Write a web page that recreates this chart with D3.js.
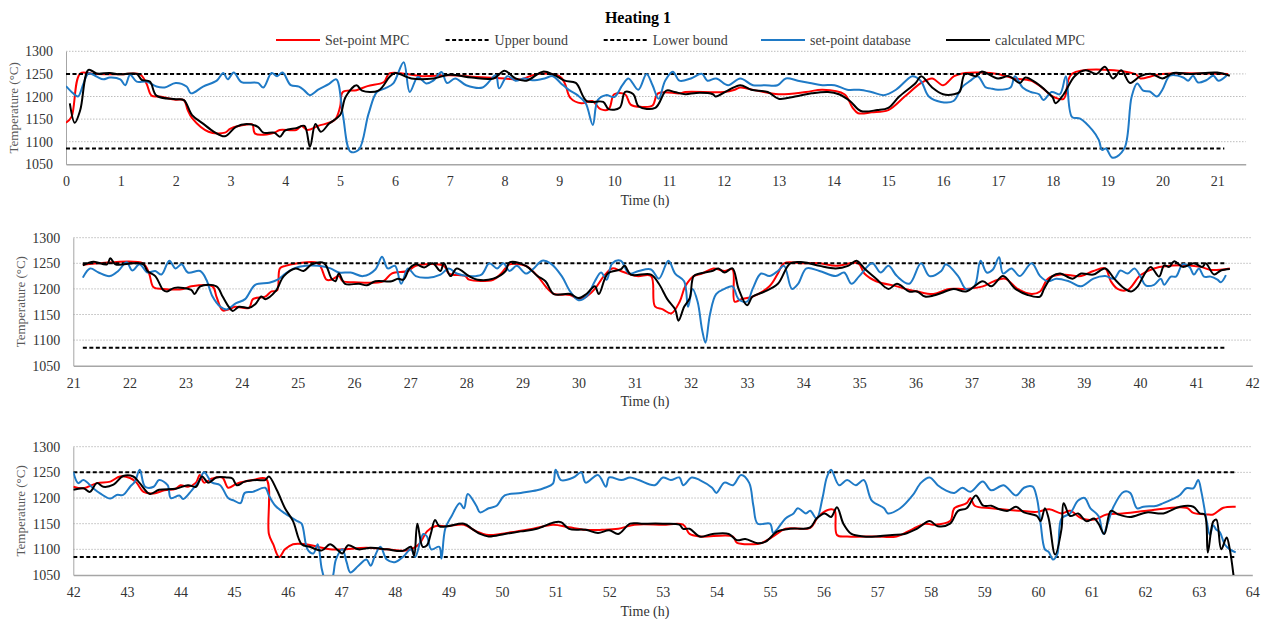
<!DOCTYPE html>
<html>
<head>
<meta charset="utf-8">
<script src="https://cdnjs.cloudflare.com/ajax/libs/d3/7.8.5/d3.min.js"></script>
<style>
  body { margin: 0; background: #fff; }
  svg { display: block; font-family: "Liberation Serif", "Times New Roman", serif; }
</style>
</head>
<body>
<div class="chart"></div>
<script>
// Values, points are [time (h), temperature (°C)]
const upperBound = 1250
const lowerBound = 1085
const tempTicks = [1050, 1100, 1150, 1200, 1250, 1300]
const seriesNames = ['Set-point MPC', 'Upper bound', 'Lower bound', 'set-point database', 'calculated MPC']

const hourTicks1 = [0, 1, 2, 3, 4, 5, 6, 7, 8, 9, 10, 11, 12, 13, 14, 15, 16, 17, 18, 19, 20, 21]
const hourTicks2 = [21, 22, 23, 24, 25, 26, 27, 28, 29, 30, 31, 32, 33, 34, 35, 36, 37, 38, 39, 40, 41, 42]
const hourTicks3 = [42, 43, 44, 45, 46, 47, 48, 49, 50, 51, 52, 53, 54, 55, 56, 57, 58, 59, 60, 61, 62, 63, 64]

const hourDomain1 = [0, 21.52]
const hourDomain2 = [21, 42]
const hourDomain3 = [42, 64]

const boundSpan1 = [0, 21.13]
const boundSpan2 = [21.17, 41.52]
const boundSpan3 = [42, 63.71]

// ---- panel 1 (0 - 21 h)
const setpointMpc1 = [[0,1142],[0.1,1155],[0.26,1251],[0.5,1250],[1.0,1249],[1.35,1249],[1.47,1228],[1.56,1202],[1.71,1200],[2.0,1193],[2.15,1192],[2.22,1170],[2.3,1152],[2.6,1122],[2.9,1120],[3.0,1129],[3.3,1138],[3.4,1138],[3.45,1118],[3.8,1120],[3.9,1126],[4.2,1126],[4.3,1135],[4.4,1126],[4.6,1135],[4.9,1148],[5.0,1177],[5.05,1210],[5.3,1214],[5.5,1223],[5.8,1232],[5.9,1251],[6.5,1245],[7.0,1247],[7.5,1243],[8.0,1240],[8.3,1238],[8.6,1250],[9.0,1245],[9.1,1229],[9.2,1197],[9.4,1185],[9.6,1190],[9.75,1172],[9.9,1172],[10.0,1205],[10.2,1205],[10.3,1182],[10.5,1177],[10.7,1180],[10.8,1207],[11.2,1207],[11.3,1210],[12.0,1210],[12.2,1215],[12.3,1220],[12.6,1213],[13.0,1205],[13.5,1210],[13.8,1215],[14.2,1205],[14.35,1175],[14.45,1163],[14.7,1165],[15.0,1170],[15.3,1200],[15.6,1230],[15.8,1240],[16.0,1225],[16.2,1245],[16.4,1252],[17.0,1250],[17.3,1240],[17.6,1235],[17.8,1220],[18.0,1200],[18.2,1195],[18.35,1250],[19.5,1250],[19.6,1240],[19.8,1245],[20.0,1250],[21.2,1250]]
const setpointDb1 = [[0,1223],[0.13,1207],[0.22,1200],[0.32,1229],[0.41,1251],[0.56,1244],[0.68,1238],[0.8,1242],[0.99,1238],[1.08,1225],[1.17,1248],[1.29,1233],[1.47,1233],[1.65,1222],[1.8,1220],[2.0,1230],[2.2,1222],[2.28,1207],[2.5,1222],[2.75,1235],[2.87,1252],[2.95,1238],[3.06,1253],[3.2,1232],[3.5,1230],[3.6,1220],[3.75,1252],[3.85,1245],[3.95,1253],[4.1,1225],[4.25,1222],[4.35,1213],[4.45,1203],[4.6,1215],[4.8,1228],[4.93,1238],[5.05,1160],[5.19,1078],[5.34,1082],[5.52,1162],[5.67,1210],[5.82,1218],[5.97,1229],[6.16,1276],[6.27,1210],[6.42,1243],[6.57,1229],[6.7,1235],[6.85,1254],[6.95,1230],[7.1,1240],[7.3,1225],[7.6,1220],[7.84,1247],[7.9,1218],[8.05,1245],[8.2,1235],[8.36,1240],[8.51,1236],[8.73,1240],[8.88,1245],[9.03,1229],[9.18,1214],[9.33,1203],[9.48,1185],[9.61,1137],[9.7,1192],[9.85,1203],[10.0,1199],[10.15,1225],[10.26,1240],[10.44,1215],[10.59,1250],[10.7,1225],[10.81,1195],[10.93,1235],[11.07,1255],[11.19,1235],[11.4,1240],[11.6,1250],[11.7,1235],[11.86,1240],[12.08,1225],[12.3,1240],[12.53,1225],[12.75,1225],[12.98,1225],[13.13,1240],[13.35,1235],[13.57,1230],[13.8,1225],[14.02,1225],[14.25,1215],[14.47,1215],[14.69,1210],[14.92,1203],[15.14,1215],[15.37,1240],[15.44,1245],[15.59,1235],[15.74,1200],[15.96,1188],[16.19,1190],[16.34,1220],[16.5,1235],[16.63,1245],[16.78,1220],[16.86,1218],[17.0,1215],[17.23,1220],[17.31,1245],[17.45,1220],[17.6,1210],[17.75,1205],[17.83,1192],[17.98,1210],[18.13,1205],[18.24,1245],[18.35,1155],[18.5,1151],[18.72,1126],[18.84,1104],[18.9,1082],[18.97,1085],[19.08,1065],[19.17,1067],[19.32,1089],[19.44,1200],[19.54,1229],[19.65,1213],[19.77,1211],[19.9,1200],[20.0,1215],[20.14,1246],[20.38,1242],[20.47,1235],[20.56,1246],[20.65,1231],[20.8,1236],[20.93,1246],[21.02,1235],[21.17,1246]]
const calculatedMpc1 = [[0.07,1185],[0.16,1142],[0.26,1170],[0.41,1259],[0.56,1251],[0.8,1252],[0.99,1249],[1.29,1250],[1.38,1237],[1.53,1233],[1.65,1202],[2.0,1194],[2.15,1192],[2.3,1159],[2.5,1140],[2.7,1122],[2.9,1112],[3.1,1133],[3.3,1139],[3.5,1133],[3.6,1120],[3.8,1120],[3.9,1111],[4.0,1125],[4.2,1130],[4.35,1135],[4.45,1089],[4.55,1139],[4.65,1122],[4.8,1140],[5.0,1159],[5.1,1199],[5.3,1225],[5.4,1213],[5.7,1213],[5.9,1243],[6.0,1252],[6.3,1240],[6.7,1240],[7.0,1248],[7.4,1242],[7.8,1240],[8.0,1257],[8.2,1240],[8.4,1235],[8.7,1255],[8.9,1248],[9.1,1235],[9.3,1230],[9.5,1190],[9.8,1188],[9.9,1172],[10.1,1175],[10.2,1210],[10.35,1205],[10.45,1178],[10.75,1175],[10.95,1213],[11.1,1210],[11.3,1205],[11.5,1208],[11.8,1205],[11.85,1200],[12.1,1215],[12.3,1225],[12.5,1215],[12.8,1210],[13.0,1195],[13.3,1200],[13.6,1207],[13.9,1210],[14.1,1205],[14.3,1190],[14.5,1168],[14.8,1170],[15.0,1175],[15.2,1200],[15.5,1230],[15.6,1245],[15.8,1220],[16.0,1205],[16.2,1205],[16.3,1210],[16.4,1250],[16.6,1245],[16.7,1255],[17.0,1240],[17.2,1245],[17.4,1230],[17.5,1242],[17.7,1230],[17.9,1210],[18.0,1198],[18.05,1185],[18.2,1205],[18.4,1245],[18.6,1258],[18.8,1250],[18.95,1266],[19.1,1240],[19.25,1258],[19.41,1230],[19.6,1245],[19.8,1250],[20.0,1240],[20.2,1252],[20.5,1250],[21.0,1253],[21.23,1246]]

// ---- panel 2 (21 - 42 h)
const setpointMpc2 = [[21.17,1247],[21.45,1250],[22.24,1250],[22.35,1230],[22.43,1203],[22.6,1200],[22.96,1200],[23.1,1205],[23.48,1205],[23.55,1185],[23.66,1158],[23.77,1160],[23.88,1165],[24.13,1163],[24.2,1180],[24.42,1185],[24.53,1195],[24.63,1197],[24.68,1240],[24.78,1245],[25.0,1250],[25.36,1250],[25.51,1218],[25.6,1218],[25.73,1225],[25.8,1215],[26.0,1213],[26.52,1215],[26.67,1230],[26.96,1235],[27.1,1245],[27.6,1245],[27.69,1230],[27.98,1225],[28.05,1218],[28.48,1218],[28.62,1230],[28.77,1248],[29.06,1245],[29.13,1240],[29.27,1225],[29.45,1200],[29.56,1190],[29.85,1188],[30.0,1180],[30.14,1185],[30.29,1200],[30.45,1225],[30.6,1240],[30.75,1235],[31.04,1225],[31.29,1225],[31.36,1166],[31.5,1160],[31.65,1152],[31.8,1175],[31.9,1205],[32.05,1225],[32.2,1230],[32.4,1240],[32.6,1235],[32.74,1238],[32.78,1175],[32.9,1180],[33.1,1185],[33.4,1205],[33.55,1230],[33.66,1250],[34.0,1250],[34.3,1250],[34.58,1245],[34.98,1250],[35.09,1230],[35.3,1215],[35.67,1205],[35.82,1200],[36.03,1195],[36.32,1190],[36.6,1200],[36.9,1200],[37.2,1205],[37.4,1215],[37.6,1220],[37.82,1200],[38.07,1190],[38.22,1195],[38.36,1220],[38.58,1228],[38.95,1225],[39.17,1235],[39.38,1240],[39.48,1215],[39.6,1200],[39.78,1198],[40.01,1227],[40.25,1240],[40.73,1246],[41.08,1243],[41.26,1237],[41.6,1240]]
const setpointDb2 = [[21.17,1222],[21.3,1240],[21.45,1232],[21.65,1225],[21.8,1235],[21.95,1252],[22.05,1236],[22.18,1248],[22.32,1232],[22.46,1235],[22.57,1228],[22.71,1255],[22.82,1240],[22.93,1248],[23.04,1232],[23.26,1235],[23.37,1218],[23.48,1185],[23.62,1165],[23.73,1160],[23.9,1172],[24.06,1180],[24.24,1208],[24.49,1212],[24.64,1218],[24.78,1230],[24.93,1240],[25.14,1245],[25.36,1245],[25.58,1240],[25.73,1232],[25.94,1232],[26.16,1225],[26.38,1238],[26.5,1263],[26.6,1240],[26.73,1245],[26.84,1210],[26.96,1240],[27.1,1225],[27.32,1222],[27.54,1228],[27.69,1240],[27.83,1230],[28.05,1225],[28.27,1228],[28.41,1250],[28.55,1240],[28.66,1250],[28.77,1235],[28.9,1245],[29.06,1230],[29.2,1240],[29.35,1255],[29.5,1250],[29.7,1225],[29.85,1195],[30.0,1178],[30.14,1185],[30.29,1215],[30.4,1232],[30.5,1218],[30.6,1250],[30.75,1255],[30.9,1230],[31.07,1235],[31.29,1238],[31.43,1220],[31.6,1255],[31.72,1230],[31.88,1215],[31.95,1165],[32.03,1200],[32.12,1175],[32.2,1120],[32.26,1095],[32.34,1150],[32.45,1190],[32.6,1200],[32.74,1205],[32.85,1180],[33.0,1175],[33.1,1200],[33.25,1230],[33.4,1225],[33.55,1235],[33.66,1245],[33.8,1200],[33.91,1210],[34.06,1240],[34.29,1235],[34.58,1225],[34.73,1232],[34.86,1210],[35.0,1225],[35.23,1250],[35.38,1232],[35.52,1245],[35.67,1225],[35.89,1210],[36.1,1250],[36.25,1225],[36.46,1235],[36.54,1248],[36.76,1225],[36.9,1200],[37.05,1205],[37.16,1255],[37.27,1232],[37.38,1238],[37.49,1262],[37.56,1230],[37.71,1240],[37.86,1225],[38.07,1250],[38.22,1225],[38.36,1215],[38.51,1220],[38.73,1215],[38.95,1205],[39.17,1220],[39.38,1225],[39.54,1220],[39.65,1236],[39.78,1230],[39.9,1240],[40.01,1224],[40.1,1207],[40.25,1208],[40.37,1220],[40.43,1208],[40.55,1224],[40.64,1224],[40.76,1248],[40.88,1243],[40.96,1228],[41.05,1240],[41.14,1224],[41.26,1224],[41.38,1218],[41.44,1213],[41.53,1227]]
const calculatedMpc2 = [[21.17,1246],[21.36,1253],[21.6,1248],[21.66,1260],[21.75,1248],[22.07,1250],[22.25,1248],[22.32,1235],[22.46,1225],[22.6,1198],[22.67,1195],[22.8,1202],[23.1,1198],[23.16,1190],[23.26,1205],[23.55,1205],[23.66,1185],[23.77,1165],[23.84,1157],[23.95,1165],[24.13,1163],[24.24,1170],[24.35,1185],[24.42,1180],[24.6,1195],[24.75,1225],[24.96,1240],[25.1,1235],[25.25,1248],[25.47,1250],[25.6,1220],[25.67,1215],[25.73,1230],[25.84,1210],[26.09,1210],[26.23,1207],[26.38,1215],[26.67,1215],[26.78,1220],[26.88,1218],[26.99,1240],[27.1,1248],[27.25,1242],[27.4,1250],[27.54,1235],[27.6,1250],[27.72,1225],[27.83,1240],[28.05,1225],[28.2,1218],[28.48,1220],[28.7,1235],[28.77,1252],[29.06,1245],[29.27,1225],[29.41,1215],[29.56,1190],[29.85,1190],[30.0,1182],[30.14,1190],[30.29,1205],[30.36,1190],[30.52,1230],[30.75,1238],[30.82,1245],[30.93,1228],[31.29,1228],[31.43,1210],[31.58,1180],[31.72,1160],[31.78,1138],[31.88,1165],[31.98,1182],[32.05,1225],[32.16,1230],[32.38,1235],[32.49,1240],[32.6,1232],[32.74,1240],[32.85,1200],[33.0,1168],[33.1,1185],[33.32,1195],[33.55,1210],[33.77,1250],[34.0,1252],[34.29,1245],[34.58,1240],[34.8,1245],[34.95,1255],[35.09,1240],[35.3,1220],[35.52,1200],[35.67,1210],[35.89,1195],[36.03,1195],[36.17,1185],[36.32,1187],[36.46,1192],[36.68,1200],[36.9,1195],[37.2,1215],[37.35,1205],[37.56,1225],[37.78,1200],[38.0,1188],[38.22,1185],[38.29,1200],[38.44,1225],[38.58,1230],[38.8,1220],[38.95,1230],[39.17,1228],[39.38,1240],[39.54,1220],[39.72,1201],[39.84,1195],[39.96,1205],[40.07,1227],[40.19,1243],[40.34,1224],[40.43,1246],[40.52,1243],[40.61,1254],[40.76,1243],[40.96,1250],[41.11,1243],[41.17,1250],[41.32,1228],[41.44,1236],[41.6,1239]]

// ---- panel 3 (42 - 64 h)
const setpointMpc3 = [[42.0,1222],[42.19,1219],[42.44,1229],[42.69,1232],[42.87,1242],[43.06,1239],[43.18,1230],[43.31,1212],[43.5,1209],[43.7,1215],[43.91,1218],[44.0,1225],[44.14,1222],[44.29,1230],[44.36,1245],[44.44,1230],[44.59,1238],[44.78,1240],[44.89,1220],[45.05,1228],[45.35,1235],[45.6,1237],[45.65,1130],[45.73,1110],[45.84,1085],[45.95,1100],[46.1,1110],[46.33,1110],[46.56,1105],[46.79,1100],[47.02,1100],[47.47,1103],[47.85,1100],[48.23,1098],[48.45,1110],[48.6,1135],[48.75,1145],[48.98,1145],[49.29,1148],[49.52,1135],[49.75,1128],[49.97,1130],[50.27,1135],[50.58,1140],[50.95,1148],[51.25,1143],[51.56,1138],[51.86,1138],[52.17,1140],[52.47,1148],[53.0,1148],[53.38,1148],[53.5,1130],[53.69,1125],[54.31,1125],[54.38,1113],[54.69,1110],[54.83,1112],[55.06,1125],[55.29,1140],[55.75,1142],[55.91,1165],[56.14,1178],[56.21,1175],[56.25,1128],[56.44,1125],[56.98,1125],[57.36,1125],[57.67,1140],[57.9,1150],[58.05,1148],[58.36,1155],[58.44,1180],[58.67,1190],[58.74,1200],[58.82,1185],[59.13,1180],[59.67,1175],[59.98,1173],[60.21,1178],[60.44,1170],[60.6,1175],[60.82,1160],[61.05,1158],[61.28,1168],[61.58,1170],[62.03,1175],[62.77,1181],[62.9,1171],[63.15,1168],[63.27,1168],[63.46,1181],[63.69,1183]]
const setpointDb3 = [[42.0,1251],[42.09,1229],[42.19,1235],[42.37,1219],[42.5,1209],[42.69,1199],[42.81,1206],[42.93,1206],[43.06,1222],[43.15,1232],[43.24,1255],[43.34,1222],[43.5,1222],[43.6,1235],[43.76,1225],[43.82,1200],[43.98,1205],[44.05,1198],[44.21,1215],[44.36,1235],[44.44,1250],[44.59,1230],[44.74,1225],[44.89,1200],[45.0,1195],[45.12,1190],[45.2,1210],[45.35,1212],[45.58,1220],[45.65,1205],[45.77,1185],[45.95,1170],[46.18,1155],[46.26,1150],[46.37,1100],[46.48,1092],[46.56,1110],[46.64,1060],[46.71,1040],[46.82,1042],[46.9,1080],[47.02,1100],[47.1,1075],[47.17,1055],[47.32,1068],[47.47,1080],[47.55,1068],[47.62,1085],[47.73,1105],[47.85,1080],[48.0,1075],[48.15,1085],[48.3,1100],[48.38,1085],[48.53,1130],[48.6,1125],[48.68,1100],[48.83,1105],[48.87,1082],[48.94,1140],[49.06,1165],[49.21,1190],[49.29,1180],[49.36,1208],[49.52,1185],[49.59,1172],[49.75,1180],[49.9,1185],[50.05,1205],[50.35,1210],[50.65,1215],[50.8,1220],[50.95,1228],[51.0,1255],[51.1,1235],[51.33,1240],[51.48,1250],[51.56,1230],[51.79,1245],[51.94,1222],[52.0,1240],[52.23,1235],[52.39,1240],[52.55,1235],[52.85,1225],[53.0,1240],[53.15,1235],[53.31,1240],[53.38,1225],[53.54,1240],[53.69,1235],[53.92,1220],[54.0,1210],[54.15,1230],[54.31,1225],[54.46,1245],[54.61,1230],[54.69,1185],[54.77,1150],[55.0,1150],[55.06,1132],[55.14,1140],[55.29,1160],[55.44,1170],[55.52,1180],[55.67,1170],[55.75,1175],[55.87,1160],[55.98,1200],[56.06,1240],[56.14,1255],[56.29,1225],[56.44,1235],[56.6,1225],[56.75,1235],[56.9,1195],[57.13,1180],[57.2,1170],[57.43,1180],[57.66,1205],[57.82,1230],[57.98,1240],[58.13,1225],[58.28,1215],[58.44,1210],[58.59,1220],[58.74,1212],[58.97,1232],[59.13,1215],[59.36,1225],[59.59,1205],[59.74,1220],[59.9,1222],[59.98,1200],[60.05,1150],[60.13,1100],[60.2,1095],[60.28,1080],[60.36,1090],[60.44,1160],[60.6,1170],[60.75,1195],[60.87,1200],[60.98,1180],[61.13,1165],[61.22,1130],[61.3,1150],[61.41,1183],[61.6,1212],[61.72,1210],[61.85,1180],[61.97,1183],[62.22,1185],[62.34,1190],[62.53,1199],[62.65,1206],[62.77,1219],[62.9,1219],[62.99,1235],[63.05,1212],[63.15,1154],[63.21,1128],[63.27,1147],[63.33,1138],[63.39,1134],[63.49,1109],[63.58,1100],[63.69,1094]]
const calculatedMpc3 = [[42.0,1216],[42.19,1219],[42.31,1212],[42.44,1229],[42.56,1222],[42.75,1226],[42.93,1243],[43.12,1242],[43.24,1229],[43.43,1208],[43.6,1216],[43.91,1218],[44.14,1225],[44.29,1222],[44.4,1242],[44.52,1230],[44.67,1240],[44.86,1240],[44.97,1238],[45.05,1225],[45.2,1232],[45.42,1235],[45.58,1235],[45.65,1242],[45.8,1215],[45.95,1180],[46.1,1155],[46.26,1110],[46.41,1105],[46.64,1098],[46.79,1110],[46.94,1098],[47.02,1092],[47.13,1108],[47.32,1100],[47.55,1103],[47.85,1100],[48.15,1097],[48.3,1105],[48.36,1088],[48.42,1150],[48.52,1105],[48.6,1108],[48.67,1130],[48.75,1157],[48.83,1145],[48.98,1145],[49.29,1150],[49.44,1140],[49.59,1130],[49.75,1125],[50.05,1130],[50.35,1135],[50.65,1140],[50.95,1152],[51.1,1153],[51.25,1140],[51.56,1138],[51.79,1132],[52.0,1137],[52.17,1130],[52.39,1150],[52.6,1150],[53.0,1150],[53.31,1148],[53.38,1140],[53.5,1140],[53.69,1125],[53.93,1130],[54.23,1130],[54.38,1118],[54.54,1120],[54.77,1112],[54.92,1115],[55.14,1135],[55.37,1140],[55.75,1143],[55.87,1160],[56.02,1170],[56.14,1163],[56.25,1182],[56.37,1150],[56.52,1130],[56.75,1125],[56.98,1125],[57.28,1128],[57.51,1130],[57.74,1140],[57.98,1155],[58.13,1145],[58.36,1150],[58.51,1175],[58.67,1180],[58.84,1205],[58.98,1185],[59.13,1185],[59.28,1178],[59.44,1175],[59.59,1183],[59.74,1172],[59.98,1165],[60.05,1155],[60.13,1180],[60.2,1160],[60.32,1090],[60.44,1140],[60.48,1190],[60.6,1165],[60.75,1170],[60.9,1155],[61.05,1160],[61.13,1150],[61.24,1130],[61.36,1175],[61.5,1168],[61.72,1163],[62.03,1172],[62.34,1170],[62.65,1183],[62.9,1183],[63.02,1170],[63.11,1168],[63.17,1094],[63.27,1154],[63.33,1158],[63.42,1100],[63.52,1123],[63.58,1100],[63.66,1040]]

// layout (pixels)
const width = 1274
const height = 619
const panels = [
    {left: 66, right: 1245.7, top: 51.3, bottom: 164.3, labelX: 13.3, domain: hourDomain1, ticks: hourTicks1, span: boundSpan1, mpc: setpointMpc1, db: setpointDb1, calc: calculatedMpc1},
    {left: 73.3, right: 1252.3, top: 237.7, bottom: 365.7, labelX: 20.7, domain: hourDomain2, ticks: hourTicks2, span: boundSpan2, mpc: setpointMpc2, db: setpointDb2, calc: calculatedMpc2},
    {left: 73.3, right: 1252.3, top: 446.7, bottom: 575, labelX: 20.7, domain: hourDomain3, ticks: hourTicks3, span: boundSpan3, mpc: setpointMpc3, db: setpointDb3, calc: calculatedMpc3}
]

const red = '#ff0000'
const blue = '#1f7ac6'
const black = '#000000'

let svg = d3.select('.chart')
    .append('svg')
    .attr('width', width)
    .attr('height', height)

svg.append('text')
    .attr('x', 638)
    .attr('y', 17)
    .attr('text-anchor', 'middle')
    .attr('dominant-baseline', 'central')
    .attr('font-size', 16)
    .attr('font-weight', 'bold')
    .attr('fill', '#000')
    .text('Heating 1')

// Legend
let legendItems = [
    {name: seriesNames[0], color: red, dash: null, x: 276},
    {name: seriesNames[1], color: black, dash: '4,2.5', x: 445.6},
    {name: seriesNames[2], color: black, dash: '4,2.5', x: 603.7},
    {name: seriesNames[3], color: blue, dash: null, x: 761},
    {name: seriesNames[4], color: black, dash: null, x: 946}
]
let legend = svg.append('g')
    .selectAll('g')
    .data(legendItems)
    .enter()
    .append('g')
    .attr('transform', d => 'translate(' + d.x + ',40)')

legend.append('line')
    .attr('x1', 0)
    .attr('x2', 44)
    .attr('stroke', d => d.color)
    .attr('stroke-width', 2)
    .attr('stroke-dasharray', d => d.dash)

legend.append('text')
    .attr('x', 49)
    .attr('dominant-baseline', 'central')
    .attr('font-size', 14)
    .attr('fill', '#404040')
    .text(d => d.name)

panels.forEach((p, i) => {
    let x = d3.scaleLinear().domain(p.domain).range([p.left, p.right])
    let y = d3.scaleLinear().domain([1050, 1300]).range([p.bottom, p.top])

    let g = svg.append('g')

    // gridlines
    g.selectAll('.grid')
        .data(tempTicks.filter(t => t > 1050))
        .enter()
        .append('line')
        .attr('x1', p.left)
        .attr('x2', p.right)
        .attr('y1', d => y(d))
        .attr('y2', d => y(d))
        .attr('stroke', '#bdbdbd')
        .attr('stroke-width', 1)
        .attr('stroke-dasharray', '1.5,1.5')

    // axes
    let xAxis = g.append('g')
        .attr('transform', 'translate(0,' + p.bottom + ')')
        .call(d3.axisBottom(x).tickValues(p.ticks).tickSize(0).tickPadding(0).tickFormat(d3.format('d')))
    xAxis.select('.domain').attr('stroke', '#a6a6a6').attr('stroke-width', 1.5)
    xAxis.selectAll('text')
        .attr('y', 17.5)
        .attr('dy', null)
        .attr('dominant-baseline', 'central')
        .attr('font-size', 14)
        .attr('font-family', '"Liberation Serif", serif')
        .attr('fill', '#333')

    let yAxis = g.append('g')
        .attr('transform', 'translate(' + p.left + ',0)')
        .call(d3.axisLeft(y).tickValues(tempTicks).tickSize(0).tickPadding(13).tickFormat(d3.format('d')))
    yAxis.select('.domain').attr('stroke', '#a6a6a6').attr('stroke-width', 1)
    yAxis.selectAll('text')
        .attr('dy', null)
        .attr('dominant-baseline', 'central')
        .attr('font-size', 14)
        .attr('font-family', '"Liberation Serif", serif')
        .attr('fill', '#333')

    g.append('text')
        .attr('transform', 'translate(' + p.labelX + ',' + ((p.top + p.bottom) / 2) + ') rotate(-90)')
        .attr('text-anchor', 'middle')
        .attr('dominant-baseline', 'central')
        .attr('font-size', 13)
        .attr('fill', '#595959')
        .text('Temperature (°C)')

    g.append('text')
        .attr('x', 645)
        .attr('y', p.bottom + 36)
        .attr('text-anchor', 'middle')
        .attr('dominant-baseline', 'central')
        .attr('font-size', 14)
        .attr('fill', '#333')
        .text('Time (h)')

    // series, clipped to plot area
    svg.append('clipPath')
        .attr('id', 'clip' + i)
        .append('rect')
        .attr('x', p.left)
        .attr('y', p.top - 10)
        .attr('width', p.right - p.left)
        .attr('height', p.bottom - p.top + 10)

    let plot = g.append('g').attr('clip-path', 'url(#clip' + i + ')')

    let line = d3.line()
        .x(d => x(d[0]))
        .y(d => y(d[1]))
        .curve(d3.curveCatmullRom.alpha(0.5))

    let bounds = [upperBound, lowerBound].map(v => [[p.span[0], v], [p.span[1], v]])

    plot.append('path')
        .datum(p.mpc)
        .attr('d', line)
        .attr('fill', 'none')
        .attr('stroke', red)
        .attr('stroke-width', 2)

    plot.selectAll('.bound')
        .data(bounds)
        .enter()
        .append('path')
        .attr('d', d3.line().x(d => x(d[0])).y(d => y(d[1])))
        .attr('fill', 'none')
        .attr('stroke', black)
        .attr('stroke-width', 2)
        .attr('stroke-dasharray', '4,2.5')

    plot.append('path')
        .datum(p.db)
        .attr('d', line)
        .attr('fill', 'none')
        .attr('stroke', blue)
        .attr('stroke-width', 2)

    plot.append('path')
        .datum(p.calc)
        .attr('d', line)
        .attr('fill', 'none')
        .attr('stroke', black)
        .attr('stroke-width', 2)
})
</script>
</body>
</html>
